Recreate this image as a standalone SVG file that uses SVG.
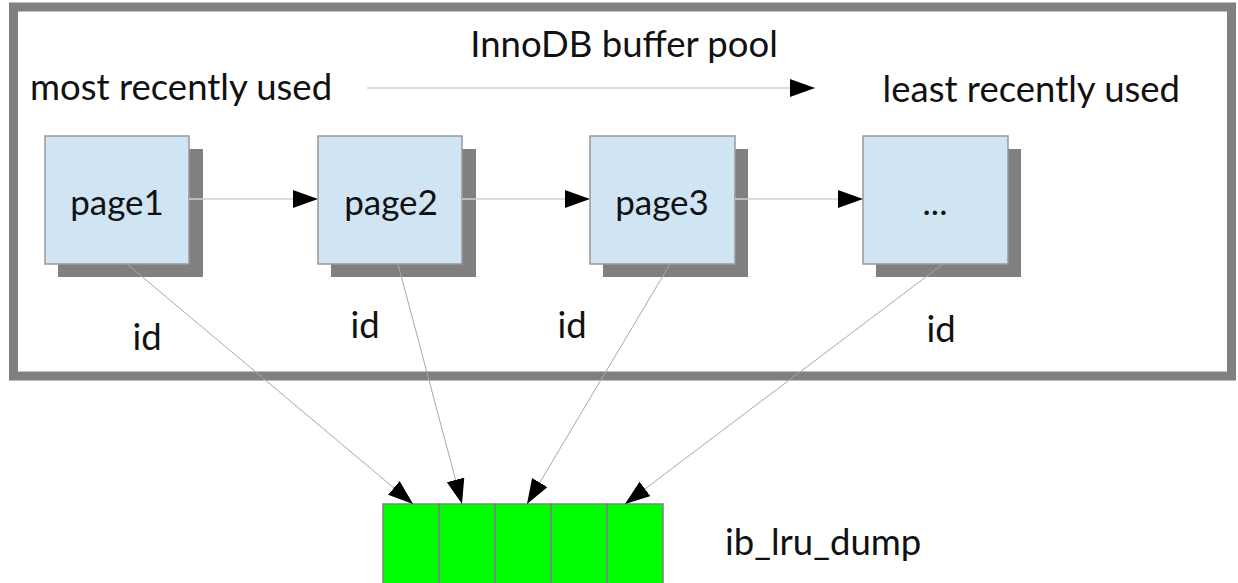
<svg xmlns="http://www.w3.org/2000/svg" width="1238" height="583" viewBox="0 0 1238 583">
<style>
text{font-family:Lato,"Open Sans","Liberation Sans",sans-serif;fill:#111;}
.lbl{font-size:36.5px;}
.pl{font-size:35px;}
.page{fill:#cfe5f3;stroke:#999;stroke-width:1.5;}
.shadow{fill:#808080;}
.cell{fill:#00ff00;stroke:#808080;stroke-width:1.5;}
.conn{stroke:#d0d0d0;stroke-width:1.5;fill:none;marker-end:url(#arr);}
.diag{stroke:#a8a8a8;stroke-width:1;fill:none;marker-end:url(#arr);}
</style>
<defs>
<marker id="arr" markerUnits="userSpaceOnUse" markerWidth="26" markerHeight="20" refX="25" refY="9" orient="auto">
<path d="M0,0 L25,9 L0,18 Z" fill="#000"/>
</marker>
</defs>
<rect x="1" y="1" width="1236" height="581" fill="#fff"/>
<g id="buffer-pool">
<rect x="13.5" y="7" width="1218" height="369" fill="#fff" stroke="#808080" stroke-width="9"/>
<text class="lbl" x="624" y="57" text-anchor="middle">InnoDB buffer pool</text>
<text class="lbl" x="30" y="100">most recently used</text>
<text class="lbl" x="1180" y="102" text-anchor="end">least recently used</text>
</g>
<g id="page1">
<rect class="shadow" x="58" y="149" width="145" height="128"/>
<rect class="page" x="45" y="136" width="144" height="128"/>
<text class="pl" x="117" y="215" text-anchor="middle">page1</text>
<text class="lbl" x="147" y="350" text-anchor="middle">id</text>
</g>
<g id="page2">
<rect class="shadow" x="331" y="149" width="145" height="128"/>
<rect class="page" x="318" y="136" width="144" height="128"/>
<text class="pl" x="391" y="215" text-anchor="middle">page2</text>
<text class="lbl" x="365" y="338" text-anchor="middle">id</text>
</g>
<g id="page3">
<rect class="shadow" x="603" y="149" width="145" height="128"/>
<rect class="page" x="590" y="136" width="145" height="128"/>
<text class="pl" x="662" y="215" text-anchor="middle">page3</text>
<text class="lbl" x="572" y="338" text-anchor="middle">id</text>
</g>
<g id="page-more">
<rect class="shadow" x="876" y="149" width="145" height="128"/>
<rect class="page" x="863" y="136" width="145" height="128"/>
<text class="pl" x="935" y="215" text-anchor="middle">...</text>
<text class="lbl" x="941" y="342" text-anchor="middle">id</text>
</g>
<g id="ib_lru_dump">
<rect class="cell" x="383" y="504" width="56" height="80"/>
<rect class="cell" x="439" y="504" width="56" height="80"/>
<rect class="cell" x="495" y="504" width="56" height="80"/>
<rect class="cell" x="551" y="504" width="56" height="80"/>
<rect class="cell" x="607" y="504" width="56" height="80"/>
<text class="lbl" x="725" y="555">ib_lru_dump</text>
</g>
<g id="connectors">
<line class="conn" x1="367" y1="88" x2="815" y2="88"/>
<line class="conn" x1="189" y1="199" x2="318" y2="199"/>
<line class="conn" x1="462" y1="199" x2="590" y2="199"/>
<line class="conn" x1="735" y1="199" x2="863" y2="199"/>
<line class="diag" x1="127" y1="264" x2="413" y2="504"/>
<line class="diag" x1="398" y1="264" x2="462" y2="504"/>
<line class="diag" x1="670" y1="264" x2="527" y2="504"/>
<line class="diag" x1="943" y1="264" x2="625" y2="504"/>
</g>
</svg>
